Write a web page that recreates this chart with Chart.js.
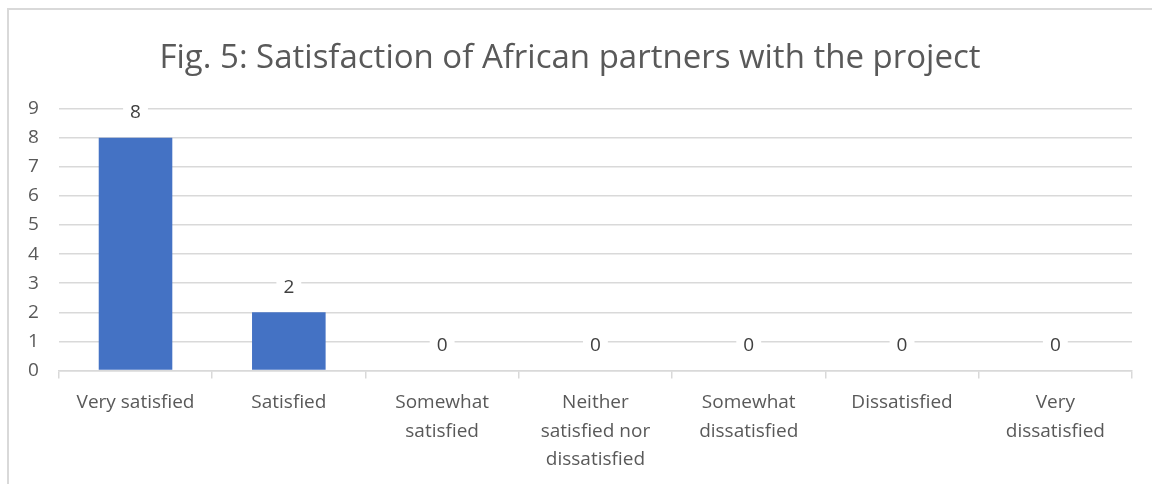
<!DOCTYPE html>
<html>
<head>
<meta charset="utf-8">
<script src="https://cdn.jsdelivr.net/npm/chart.js@4"></script>
<style>
  html, body { margin: 0; padding: 0; background: #fff; overflow: hidden; }
  #frame { position: absolute; left: 7px; top: 8px; width: 1160px; height: 500px; border: 2px solid #d9d9d9; box-sizing: border-box; }
  #wrap { position: absolute; left: 0; top: 0; width: 1152px; height: 484px; }
</style>
</head>
<body>
<div id="frame"></div>
<div id="wrap"><canvas id="surveyChart"></canvas></div>
<script>
const categories = [
  'Very satisfied',
  'Satisfied',
  ['Somewhat', 'satisfied'],
  ['Neither', 'satisfied nor', 'dissatisfied'],
  ['Somewhat', 'dissatisfied'],
  'Dissatisfied',
  ['Very', 'dissatisfied']
];
const responses = [8, 2, 0, 0, 0, 0, 0];
const yTicks = [0, 1, 2, 3, 4, 5, 6, 7, 8, 9];

const textColor = '#595959';
const fontFamily = 'Open Sans, Calibri, sans-serif';

// draws the value above each bar on a white patch, like the Excel data labels
const valueLabels = {
  id: 'valueLabels',
  afterDatasetsDraw(chart) {
    const ctx = chart.ctx;
    const meta = chart.getDatasetMeta(0);
    ctx.save();
    ctx.font = '19px ' + fontFamily;
    ctx.textAlign = 'center';
    ctx.textBaseline = 'middle';
    meta.data.forEach((bar, i) => {
      const txt = String(responses[i]);
      const y = bar.y - 25;
      const w = ctx.measureText(txt).width + 14;
      ctx.fillStyle = '#fff';
      ctx.fillRect(bar.x - w / 2, y - 11, w, 22);
      ctx.fillStyle = '#404040';
      ctx.fillText(txt, bar.x, y);
    });
    ctx.restore();
  }
};

const ctx = document.getElementById('surveyChart').getContext('2d');
const surveyChart = new Chart(ctx, {
  type: 'bar',
  data: {
    labels: categories,
    datasets: [{
      label: 'Responses',
      data: responses,
      backgroundColor: '#4472c4',
      borderWidth: 0,
      barPercentage: 0.48,
      categoryPercentage: 1
    }]
  },
  options: {
    responsive: true,
    maintainAspectRatio: false,
    animation: false,
    layout: { padding: { left: 8, right: 20, top: 33, bottom: 0 } },
    plugins: {
      legend: { display: false },
      tooltip: { enabled: false },
      title: {
        display: true,
        text: 'Fig. 5: Satisfaction of African partners with the project',
        color: textColor,
        font: { family: fontFamily, size: 33, weight: 'normal' },
        padding: { top: 6, bottom: 30 }
      }
    },
    scales: {
      x: {
        grid: { offset: true, drawOnChartArea: false, tickLength: 8, color: '#d9d9d9', lineWidth: 1.5 },
        border: { color: '#d9d9d9', width: 1.5 },
        ticks: { color: textColor, font: { family: fontFamily, size: 19, lineHeight: 1.5 }, maxRotation: 0, autoSkip: false, padding: 10 }
      },
      y: {
        min: 0,
        max: 9,
        afterBuildTicks(axis) { axis.ticks = yTicks.map(v => ({ value: v })); },
        grid: { color: '#d9d9d9', lineWidth: 1.5, drawTicks: false },
        border: { display: false },
        ticks: { color: textColor, font: { family: fontFamily, size: 19 }, padding: 20 }
      }
    }
  },
  plugins: [valueLabels]
});
</script>
</body>
</html>
